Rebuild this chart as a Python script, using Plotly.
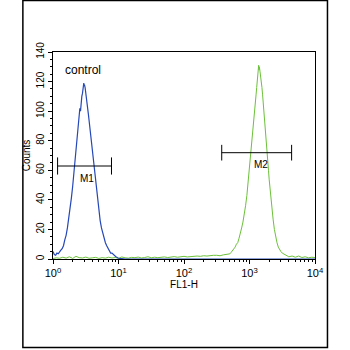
import plotly.graph_objects as go

# ---- data (log10 of FL1-H channel position, counts) ----
blue_log = [0.00,0.02,0.04,0.06,0.08,0.10,0.12,0.14,0.16,0.18,0.20,0.22,0.24,0.26,0.28,0.30,0.32,0.34,0.35,0.36,
            0.37,0.38,0.39,0.40,0.41,0.42,0.43,0.44,0.45,0.46,0.47,0.475,0.48,0.49,0.50,0.51,0.52,0.53,0.54,0.55,
            0.56,0.57,0.58,0.59,0.60,0.62,0.64,0.66,0.68,0.70,0.72,0.74,0.76,0.78,0.80,0.82,0.84,0.86,0.88,0.90,
            0.92,0.94,0.96,0.98,1.00,1.05,1.10,1.20,1.50,2.00,2.50,3.00,3.50,4.00]
blue_counts = [5,3,2.5,4,3.5,5,6,7,9,13,16,21,27,33,41,49,58,68,72,79,
               84,88,91,97,102,100,107,110,112,115,119,117,118,116,113,110,106,101,98,94,
               90,85,80,76,72,63,55,47,40,32,26,21,17,13,11,9,7,6,4,4,
               3,2,1.5,1,0.5,0.3,0,0,0,0,0,0,0,0]

green_log = [0.00,0.05,0.10,0.15,0.20,0.25,0.30,0.35,0.40,0.45,0.50,0.55,0.60,0.65,0.70,0.75,0.80,0.85,0.90,0.95,
             1.00,1.05,1.10,1.15,1.20,1.25,1.30,1.35,1.40,1.45,1.50,1.55,1.60,1.65,1.70,1.75,1.80,1.85,1.90,1.95,
             2.00,2.05,2.10,2.15,2.20,2.25,2.30,2.35,2.40,2.45,2.50,2.55,2.60,2.65,2.70,2.72,2.74,2.76,2.78,2.80,
             2.82,2.84,2.86,2.88,2.90,2.92,2.94,2.96,2.98,3.00,3.02,3.04,3.06,3.07,3.08,3.09,3.10,3.11,3.12,3.13,
             3.14,3.145,3.15,3.16,3.17,3.18,3.19,3.20,3.21,3.22,3.23,3.24,3.25,3.26,3.27,3.28,3.29,3.30,3.32,3.34,
             3.36,3.38,3.40,3.42,3.44,3.46,3.48,3.50,3.55,3.60,3.65,3.70,3.75,3.80,3.85,3.90,3.95,4.00]
green_counts = [0.3,0.8,0.5,1.2,0.6,1.5,0.4,1.8,0.9,0.7,1.3,0.5,0.8,1.1,0.4,0.9,0.6,1.2,0.7,1.0,
                0.5,1.4,0.8,0.6,1.1,0.9,1.3,0.7,1.0,1.5,0.8,1.2,0.9,1.1,1.4,1.0,1.3,1.6,1.2,1.5,
                1.8,1.4,1.7,1.5,2.0,1.8,2.2,2.0,2.4,2.5,2.5,2.2,2.8,3.0,3.5,4.5,5.5,6.5,8,10,
                11,14,17,21,25,30,36,43,52,61,70,80,92,96,100,106,111,116,122,126,
                131,128,130,127,124,120,116,111,106,101,95,89,83,77,72,66,60,54,44,35,
                27,20,15,11,8,6,5,4,3,1.5,2,1.2,2,1,1.5,0.8,1.2,1]

# gate markers: [start, end] (log10), level, label
gate_names = ["M1", "M2"]
gate_start = [0.07, 2.576]
gate_end = [0.893, 3.643]
gate_level = [62.9, 71.9]
gate_half = [5.8, 5.3]
gate_label_x = [0.512, 3.18]
gate_label_y = [54.3, 64.0]

x_tick_logs = [0, 1, 2, 3, 4]
x_tick_text = ["10<sup>0</sup>", "10<sup>1</sup>", "10<sup>2</sup>", "10<sup>3</sup>", "10<sup>4</sup>"]
y_ticks = [0, 20, 40, 60, 80, 100, 120, 140]

FONT = "Liberation Sans, Arial, sans-serif"

def lin(v):
    return 10 ** v

fig = go.Figure()
fig.add_trace(go.Scatter(x=[lin(v) for v in green_log], y=green_counts, mode="lines",
                         line=dict(color="#6cc13a", width=1), hoverinfo="skip"))
fig.add_trace(go.Scatter(x=[lin(v) for v in blue_log], y=blue_counts, mode="lines",
                         line=dict(color="#2548b8", width=1.2), hoverinfo="skip"))

for i, name in enumerate(gate_names):
    a, b, lv, h = gate_start[i], gate_end[i], gate_level[i], gate_half[i]
    fig.add_trace(go.Scatter(
        x=[lin(a), lin(b), None, lin(a), lin(a), None, lin(b), lin(b)],
        y=[lv, lv, None, lv - h, lv + h, None, lv - h, lv + h],
        mode="lines", line=dict(color="black", width=1), hoverinfo="skip"))
    fig.add_annotation(x=gate_label_x[i], y=gate_label_y[i], text=name, showarrow=False,
                       font=dict(family=FONT, size=10, color="black"))

fig.add_annotation(x=0.454, y=127.8, text="control", showarrow=False,
                   font=dict(family=FONT, size=12, color="black"))

# outer frame
fig.add_shape(type="rect", xref="paper", yref="paper", x0=-0.115, x1=1.0476, y0=-0.4275, y1=1.2488,
              line=dict(color="black", width=1.5))

fig.update_layout(
    width=350, height=350,
    margin=dict(l=52.7, r=35, t=52, b=91),
    paper_bgcolor="white", plot_bgcolor="white",
    showlegend=False,
    font=dict(family=FONT, color="black"),
)
fig.update_xaxes(type="log", range=[0, 4], tickvals=[lin(v) for v in x_tick_logs], ticktext=x_tick_text,
                 ticks="outside", ticklen=4, tickcolor="black",
                 minor=dict(ticks="outside", ticklen=2, tickcolor="black",
                            tickvals=[m * lin(d) for d in x_tick_logs[:-1] for m in range(2, 10)]),
                 showline=True, linecolor="black", linewidth=1, mirror=True,
                 showgrid=False, zeroline=False,
                 tickfont=dict(size=11), title=dict(text="FL1-H", font=dict(size=10), standoff=0))
fig.update_yaxes(range=[0, 140], tickvals=y_ticks, tickangle=-90,
                 ticks="outside", ticklen=4, tickcolor="black",
                 minor=dict(ticks="outside", ticklen=2, tickcolor="black", dtick=5),
                 showline=True, linecolor="black", linewidth=1, mirror=True,
                 showgrid=False, zeroline=False,
                 tickfont=dict(size=10), title=dict(text="Counts", font=dict(size=10), standoff=2))

fig.write_html("out.html")
